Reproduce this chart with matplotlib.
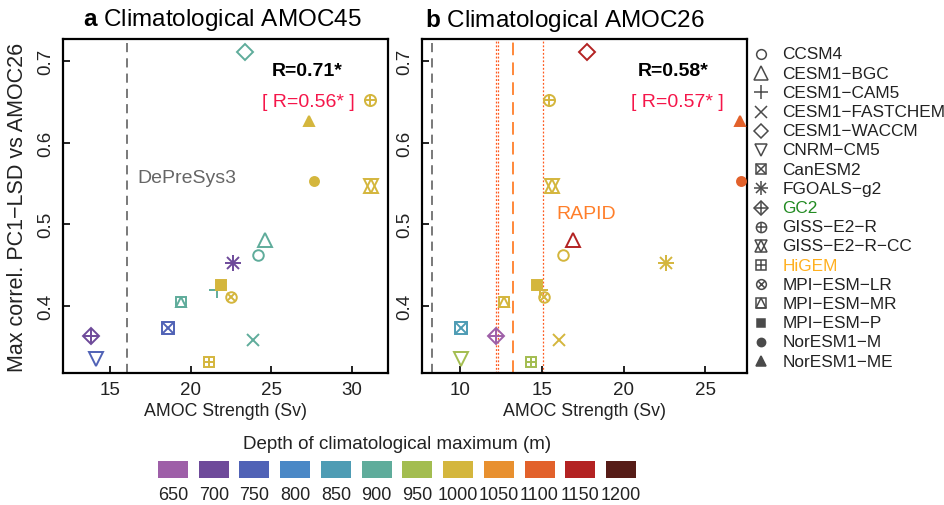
#!/usr/bin/env python3
"""
Max correlation PC1-LSD vs AMOC26 against climatological AMOC strength
(two panels: AMOC45 and AMOC26), markers per model, colour = depth of max
"""

import numpy as np
import matplotlib
matplotlib.use("Agg")
import matplotlib.pyplot as plt

plt.rcParams['font.family'] = ['Liberation Sans', 'DejaVu Sans']
plt.rcParams['mathtext.fontset'] = 'custom'
plt.rcParams['mathtext.rm'] = 'Liberation Sans'
plt.rcParams['mathtext.bf'] = 'Liberation Sans:bold'

# ─────────────────────────────────────────────
# Data
# ─────────────────────────────────────────────
models = ["CCSM4", "CESM1-BGC", "CESM1-CAM5", "CESM1-FASTCHEM", "CESM1-WACCM",
          "CNRM-CM5", "CanESM2", "FGOALS-g2", "GC2", "GISS-E2-R", "GISS-E2-R-CC",
          "HiGEM", "MPI-ESM-LR", "MPI-ESM-MR", "MPI-ESM-P", "NorESM1-M", "NorESM1-ME"]

max_correl = [0.463, 0.481, 0.420, 0.359, 0.711, 0.335, 0.373, 0.453, 0.363,
              0.652, 0.547, 0.332, 0.411, 0.405, 0.426, 0.553, 0.627]

amoc45 = [24.17, 24.6, 21.63, 23.87, 23.37, 14.13, 18.6, 22.63, 13.8,
          31.12, 31.2, 21.14, 22.5, 19.4, 21.88, 27.65, 27.34]
depth45 = [900, 900, 900, 900, 900, 750, 750, 700, 700,
           1000, 1000, 1000, 1000, 900, 1000, 1000, 1000]

amoc26 = [16.3, 16.9, 14.9, 16.05, 17.77, 10.06, 10.06, 22.6, 12.2,
          15.44, 15.6, 14.34, 15.14, 12.7, 14.7, 27.2, 27.1]
depth26 = [1000, 1150, 1000, 1000, 1150, 950, 850, 1000, 650,
           1000, 1000, 950, 1000, 1000, 1000, 1100, 1100]

depths = [650, 700, 750, 800, 850, 900, 950, 1000, 1050, 1100, 1150, 1200]
depth_colors = ['#9E5FA8', '#6E4A9A', '#5062B6', '#4A88C6', '#4E9CB4', '#5FAC9B',
                '#A3BD50', '#D4B63D', '#E8902F', '#E2612B', '#B32222', '#561C17']

depresys3 = 16.05
rapid_mean = 13.24
rapid_bounds = [12.22, 12.32, 15.08]

r_text_a = ["R=0.71*", "[ R=0.56* ]"]
r_text_b = ["R=0.58*", "[ R=0.57* ]"]

legend_text_colors = {"GC2": '#228B22', "HiGEM": '#FFB020'}

# marker pieces for each model: (matplotlib marker, filled, size factor)
MARKERS = {
    "CCSM4": [('o', False, 1.0)],
    "CESM1-BGC": [('^', False, 1.35)],
    "CESM1-CAM5": [('+', False, 1.45)],
    "CESM1-FASTCHEM": [('x', False, 1.2)],
    "CESM1-WACCM": [('D', False, 1.05)],
    "CNRM-CM5": [('v', False, 1.3)],
    "CanESM2": [('s', False, 1.05), ('x', False, 1.05)],
    "FGOALS-g2": [('+', False, 1.45), ('x', False, 1.05)],
    "GC2": [('D', False, 1.05), ('+', False, 1.5)],
    "GISS-E2-R": [('o', False, 1.05), ('+', False, 1.05)],
    "GISS-E2-R-CC": [('^', False, 1.3), ('v', False, 1.3)],
    "HiGEM": [('s', False, 1.0), ('+', False, 1.0)],
    "MPI-ESM-LR": [('o', False, 1.0), ('x', False, 0.72)],
    "MPI-ESM-MR": [('s', False, 1.0), ('^', False, 1.0)],
    "MPI-ESM-P": [('s', True, 0.86)],
    "NorESM1-M": [('o', True, 0.85)],
    "NorESM1-ME": [('^', True, 1.0)],
}

BASE_MS = 7.6


def draw_marker(ax, x, y, model, color, ms=BASE_MS, mew=1.4):
    for m, filled, f in MARKERS[model]:
        ax.plot([x], [y], ls='none', marker=m, ms=ms * f,
                mfc=color if filled else 'none', mec=color, mew=mew,
                clip_on=False, zorder=3)


def color_of(d):
    return depth_colors[depths.index(d)]


def style_axes(ax):
    for s in ax.spines.values():
        s.set_linewidth(1.6)
    ax.tick_params(direction='in', length=5, width=1.4, labelsize=13.5, pad=6,
                   colors='#222222')
    ax.tick_params(axis='y', labelrotation=90)
    for lab in ax.get_yticklabels():
        lab.set_va('center')
    ax.set_ylim(0.318, 0.727)
    ax.set_yticks([0.4, 0.5, 0.6, 0.7])
    ax.set_xlabel("AMOC Strength (Sv)", fontsize=12.8, labelpad=3, color='#222222')


fig = plt.figure(figsize=(9.45, 5.06), dpi=100)
W, H = 945.0, 506.0

ax_a = fig.add_axes([63 / W, 1 - 374 / H, 325 / W, 334 / H])
ax_b = fig.add_axes([422 / W, 1 - 374 / H, 325 / W, 334 / H])

# ── panel a ──
style_axes(ax_a)
ax_a.set_xlim(12.09, 32.23)
ax_a.set_xticks([15, 20, 25, 30])
ax_a.axvline(depresys3, color='#555555', lw=1.1, dashes=(6, 4))
ax_a.text(16.67, 0.558, "DePreSys3", color='#666666', fontsize=14,
          ha='left', va='center')
for i, mdl in enumerate(models):
    draw_marker(ax_a, amoc45[i], max_correl[i], mdl, color_of(depth45[i]))
ax_a.text(27.2, 0.688, r_text_a[0], fontsize=14, fontweight='bold',
          ha='center', va='center', color='black')
ax_a.text(27.27, 0.651, r_text_a[1], fontsize=14, ha='center', va='center',
          color='#F5164A')
ax_a.set_ylabel("Max correl. PC1\u2212LSD vs AMOC26", fontsize=15.5,
                labelpad=7, color='#222222')

# ── panel b ──
style_axes(ax_b)
ax_b.set_xlim(7.68, 27.55)
ax_b.set_xticks([10, 15, 20, 25])
ax_b.axvline(8.29, color='#555555', lw=1.1, dashes=(6, 4))
for xb in rapid_bounds:
    ax_b.axvline(xb, color='#FF5A1F', lw=0.9, dashes=(1.5, 1.5))
ax_b.axvline(rapid_mean, color='#FF7F2A', lw=1.3, dashes=(7, 4))
ax_b.text(15.87, 0.513, "RAPID", color='#FF7F2A', fontsize=14,
          ha='left', va='center')
for i, mdl in enumerate(models):
    draw_marker(ax_b, amoc26[i], max_correl[i], mdl, color_of(depth26[i]))
ax_b.text(23.03, 0.688, r_text_b[0], fontsize=14, fontweight='bold',
          ha='center', va='center', color='black')
ax_b.text(23.27, 0.651, r_text_b[1], fontsize=14, ha='center', va='center',
          color='#F5164A')

# titles
fig.text(222 / W, 1 - 20 / H, r"$\mathbf{a}$ Climatological AMOC45",
         fontsize=17.5, ha='center', va='center')
fig.text(565 / W, 1 - 20 / H, r"$\mathbf{b}$ Climatological AMOC26",
         fontsize=17.5, ha='center', va='center')

# ── model legend ──
ax_l = fig.add_axes([750 / W, 1 - 371.6 / H, 195 / W, 326.2 / H])
ax_l.set_axis_off()
ax_l.set_xlim(0, 1)
ax_l.set_ylim(16.5, -0.5)
for i, mdl in enumerate(models):
    draw_marker(ax_l, 0.055, i, mdl, '#4a4a4a', ms=7.0, mew=1.1)
    ax_l.text(0.165, i, mdl.replace('-', '\u2212'), fontsize=12.4,
              color=legend_text_colors.get(mdl, '#222222'),
              ha='left', va='center')

# ── depth colour key ──
ax_c = fig.add_axes([158 / W, 1 - 479 / H, 478 / W, 17 / H])
ax_c.set_axis_off()
pos = np.arange(len(depths))
ax_c.bar(pos, np.ones(len(depths)), width=0.737, bottom=0, color=depth_colors)
ax_c.set_xlim(-0.3685, len(depths) - 1 + 0.3685)
ax_c.set_ylim(0, 1)
for p, d in zip(pos, depths):
    ax_c.text(p, -1.0, str(d), fontsize=13, ha='center', va='center',
              color='#222222')
fig.text(397 / W, 1 - 445 / H, "Depth of climatological maximum (m)",
         fontsize=13.5, ha='center', va='center', color='#222222')

plt.savefig("out.png", dpi=100)
print("saved out.png")
